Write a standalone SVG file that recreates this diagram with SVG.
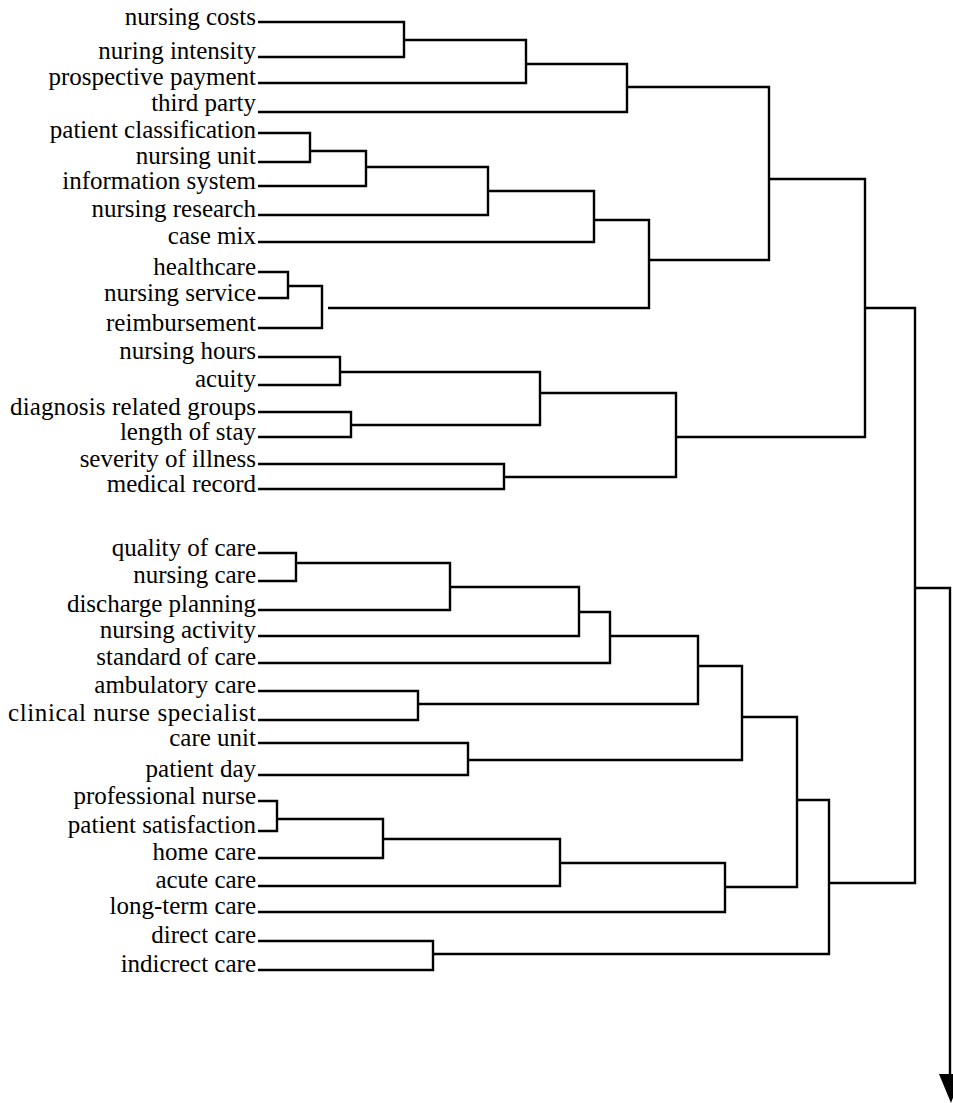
<svg xmlns="http://www.w3.org/2000/svg" width="953" height="1103" viewBox="0 0 953 1103">
<style>
.lbl{font-family:"Liberation Serif","Times New Roman",serif;font-size:25px;fill:#000;text-anchor:end}
.c{fill:none;stroke:#000;stroke-width:2.4;stroke-linejoin:miter;stroke-linecap:butt}
</style>
<rect width="953" height="1103" fill="#fff"/>
<g id="labels">
<g id="n1"><text class="lbl" x="256" y="25">nursing costs</text></g>
<g id="n2"><text class="lbl" x="256" y="59">nuring intensity</text></g>
<g id="n3"><text class="lbl" x="256" y="85">prospective payment</text></g>
<g id="n4"><text class="lbl" x="256" y="111">third party</text></g>
<g id="n5"><text class="lbl" x="256" y="138">patient classification</text></g>
<g id="n6"><text class="lbl" x="256" y="164">nursing unit</text></g>
<g id="n7"><text class="lbl" x="256" y="189">information system</text></g>
<g id="n8"><text class="lbl" x="256" y="217">nursing research</text></g>
<g id="n9"><text class="lbl" x="256" y="244">case mix</text></g>
<g id="n10"><text class="lbl" x="256" y="275">healthcare</text></g>
<g id="n11"><text class="lbl" x="256" y="301">nursing service</text></g>
<g id="n12"><text class="lbl" x="256" y="331">reimbursement</text></g>
<g id="n13"><text class="lbl" x="256" y="359">nursing hours</text></g>
<g id="n14"><text class="lbl" x="256" y="387">acuity</text></g>
<g id="n15"><text class="lbl" x="256" y="415" textLength="246" lengthAdjust="spacing">diagnosis related groups</text></g>
<g id="n16"><text class="lbl" x="256" y="440">length of stay</text></g>
<g id="n17"><text class="lbl" x="256" y="467">severity of illness</text></g>
<g id="n18"><text class="lbl" x="256" y="492">medical record</text></g>
<g id="n19"><text class="lbl" x="256" y="556">quality of care</text></g>
<g id="n20"><text class="lbl" x="256" y="583">nursing care</text></g>
<g id="n21"><text class="lbl" x="256" y="612">discharge planning</text></g>
<g id="n22"><text class="lbl" x="256" y="638">nursing activity</text></g>
<g id="n23"><text class="lbl" x="256" y="665">standard of care</text></g>
<g id="n24"><text class="lbl" x="256" y="693">ambulatory care</text></g>
<g id="n25"><text class="lbl" x="256" y="721" textLength="248" lengthAdjust="spacing">clinical nurse specialist</text></g>
<g id="n26"><text class="lbl" x="256" y="746">care unit</text></g>
<g id="n27"><text class="lbl" x="256" y="777">patient day</text></g>
<g id="n28"><text class="lbl" x="256" y="804">professional nurse</text></g>
<g id="n29"><text class="lbl" x="256" y="833">patient satisfaction</text></g>
<g id="n30"><text class="lbl" x="256" y="860">home care</text></g>
<g id="n31"><text class="lbl" x="256" y="888">acute care</text></g>
<g id="n32"><text class="lbl" x="256" y="914">long-term care</text></g>
<g id="n33"><text class="lbl" x="256" y="943">direct care</text></g>
<g id="n34"><text class="lbl" x="256" y="972">indicrect care</text></g>
</g>
<g id="connectors">
<path class="c" d="M258,22 H404 V57 H258"/>
<path class="c" d="M404,40 H526 V83 H258"/>
<path class="c" d="M526,64 H627 V112 H258"/>
<path class="c" d="M258,133 H310 V162 H258"/>
<path class="c" d="M310,151 H366 V186 H258"/>
<path class="c" d="M366,167 H488 V215 H258"/>
<path class="c" d="M488,191 H594 V242 H258"/>
<path class="c" d="M258,272 H288 V298 H258"/>
<path class="c" d="M288,286 H322 V328 H258"/>
<path class="c" d="M594,220 H649 V308 H328"/>
<path class="c" d="M627,87 H769 V260 H649"/>
<path class="c" d="M258,357 H340 V385 H258"/>
<path class="c" d="M258,412 H351 V437 H258"/>
<path class="c" d="M340,372 H540 V425 H351"/>
<path class="c" d="M258,464 H504 V489 H258"/>
<path class="c" d="M540,393 H676 V477 H504"/>
<path class="c" d="M769,179 H865 V437 H676"/>
<path class="c" d="M258,553 H296 V581 H258"/>
<path class="c" d="M296,563 H450 V610 H258"/>
<path class="c" d="M450,587 H579 V636 H258"/>
<path class="c" d="M579,612 H610 V663 H258"/>
<path class="c" d="M258,691 H418 V720 H258"/>
<path class="c" d="M610,636 H698 V704 H418"/>
<path class="c" d="M258,743 H468 V775 H258"/>
<path class="c" d="M698,666 H742 V760 H468"/>
<path class="c" d="M258,801 H277 V831 H258"/>
<path class="c" d="M277,819 H383 V858 H258"/>
<path class="c" d="M383,839 H560 V886 H258"/>
<path class="c" d="M560,863 H725 V912 H258"/>
<path class="c" d="M742,717 H797 V887 H725"/>
<path class="c" d="M258,941 H433 V970 H258"/>
<path class="c" d="M797,800 H829 V954 H433"/>
<path class="c" d="M865,308 H915 V883 H829"/>
<path class="c" d="M915,588 H950 V1080"/>
<polygon points="939,1074 962,1074 951,1103" fill="#000"/>
</g>
</svg>
